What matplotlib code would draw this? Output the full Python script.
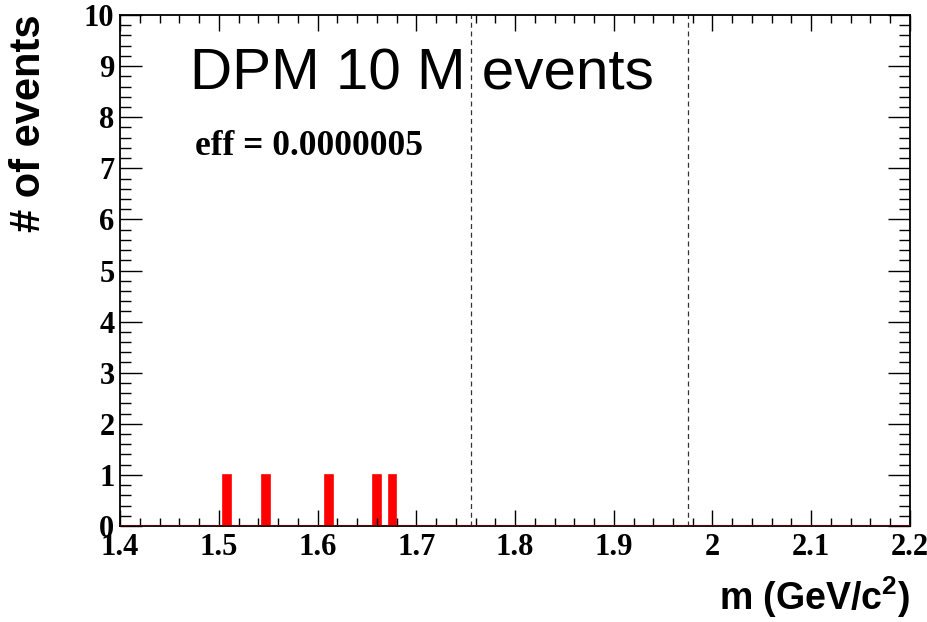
import numpy as np
import matplotlib
matplotlib.use("Agg")
import matplotlib.pyplot as plt
from matplotlib.ticker import MultipleLocator

# candidate masses passing the selection (GeV/c^2)
masses = [1.508, 1.548, 1.612, 1.660, 1.676]
n_bins = 100
x_range = (1.4, 2.2)
cut_lo, cut_hi = 1.755, 1.975
title_text = "DPM 10 M events"
eff_text = "eff = 0.0000005"

plt.rcParams['mathtext.fontset'] = 'custom'
plt.rcParams['mathtext.rm'] = 'Liberation Sans'
plt.rcParams['mathtext.bf'] = 'Liberation Sans:bold'

fig = plt.figure(figsize=(9.28, 6.22), dpi=100)
ax = fig.add_axes([120/928, 1 - 526/622, 790/928, 511/622])

edges = np.linspace(x_range[0], x_range[1], n_bins + 1)
counts, _ = np.histogram(masses, bins=edges)
ax.stairs(counts, edges, fill=True, color='red', linewidth=1.2, edgecolor='red')
ax.axhline(0, color='#600000', lw=2.2, zorder=3)

# selection window
for xc in (cut_lo, cut_hi):
    ax.axvline(xc, color='#333333', lw=0.9, ls=(0, (4, 3)))

ax.set_xlim(*x_range)
ax.set_ylim(0, 10)
ticks_x = np.round(np.arange(1.4, 2.21, 0.1), 1)
ax.set_xticks(ticks_x)
ax.set_xticklabels([f"{t:g}" for t in ticks_x])
ax.xaxis.set_minor_locator(MultipleLocator(0.02))
ax.yaxis.set_major_locator(MultipleLocator(1))
ax.yaxis.set_minor_locator(MultipleLocator(0.2))

ax.tick_params(axis='x', which='major', direction='in', length=11.5, width=1,
               top=True, pad=5)
ax.tick_params(axis='x', which='minor', direction='in', length=5.8, width=1, top=True)
ax.tick_params(axis='y', which='major', direction='in', length=16, width=1,
               right=True, pad=4)
ax.tick_params(axis='y', which='minor', direction='in', length=8, width=1, right=True)
for lab in ax.get_xticklabels() + ax.get_yticklabels():
    lab.set_family('Liberation Serif')
    lab.set_weight('bold')
    lab.set_fontsize(22)
for s in ax.spines.values():
    s.set_linewidth(1.3)

fig.text(910/928, 1 - 610/622, r"m (GeV/c$^{\mathbf{2}}$)", family='Liberation Sans',
         weight='bold', fontsize=27, ha='right', va='baseline')
fig.text(29/928, 1 - 14/622, "# of events", family='Liberation Sans',
         weight='bold', fontsize=30, rotation=90, ha='center', va='top')

fig.text(190/928, 1 - 90/622, title_text, fontsize=42, family='Liberation Sans',
         va='baseline')
fig.text(195/928, 1 - 155/622, eff_text, fontsize=25.5, family='Liberation Serif',
         weight='bold', va='baseline')

fig.savefig("out.png", dpi=100)
